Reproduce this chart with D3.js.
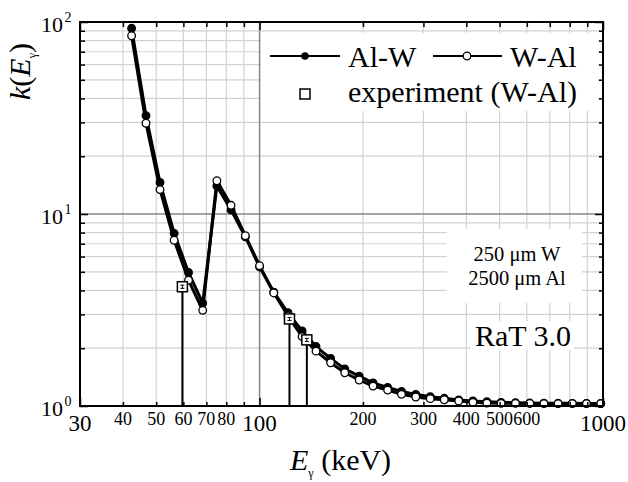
<!DOCTYPE html>
<html>
<head>
<meta charset="utf-8">
<script src="https://cdn.jsdelivr.net/npm/d3@7"></script>
<style>
  body { margin: 0; background: #fff; }
  text { font-family: "Liberation Serif", "Times New Roman", serif; fill: #000; }
</style>
</head>
<body>
<svg id="chart" width="628" height="482"></svg>
<script>
// photon energy grid (keV)
const energy = [42.4, 46.7, 51.3, 56.4, 62.1, 68.3, 75.1, 82.6, 90.9, 100,
  110, 121, 133, 146, 161, 177, 195, 214, 236, 259,
  285, 314, 345, 380, 418, 459, 505, 556, 612, 673,
  740, 814, 895, 985];

// k(E) for the two layer orders
const kAlW = [92.7, 32.5, 14.6, 7.93, 4.96, 3.43, 14.0, 10.5, 7.6, 5.3,
  3.92, 3.06, 2.46, 2.04, 1.77, 1.56, 1.43, 1.32, 1.25, 1.19,
  1.15, 1.118, 1.097, 1.075, 1.062, 1.053, 1.045, 1.04, 1.036, 1.034,
  1.033, 1.032, 1.031, 1.03];
const kWAl = [84.8, 29.7, 13.4, 7.30, 4.52, 3.15, 14.9, 11.1, 7.71, 5.38,
  3.88, 2.95, 2.30, 1.93, 1.68, 1.49, 1.366, 1.27, 1.21, 1.15,
  1.114, 1.092, 1.078, 1.062, 1.045, 1.036, 1.033, 1.032, 1.031, 1.03,
  1.03, 1.03, 1.03, 1.03];

// experiment (W-Al)
const expE = [59.6, 122.2, 137.3];
const expK = [4.18, 2.84, 2.21];
const expErr = [0.08, 0.05, 0.04];

// ticks / labels
const xMajor = [30, 100, 1000];
const xMinor = [40, 50, 60, 70, 80, 90, 200, 300, 400, 500, 600, 700, 800, 900];
const xMinorLabels = [40, 50, 60, 70, 80, 200, 300, 400, 500, 600];
const yMajor = [1, 10, 100];
const yMinor = [2, 3, 4, 5, 6, 7, 8, 9, 20, 30, 40, 50, 60, 70, 80, 90];

const pLeft = 80, pRight = 603, pTop = 22, pBottom = 406;

const svg = d3.select("#chart");

const x = d3.scaleLog().domain([30, 1000]).range([pLeft, pRight]);
const y = d3.scaleLog().domain([1, 100]).range([pBottom, pTop]);

// grid
const grid = svg.append("g").attr("class", "grid");
grid.selectAll("line.gx").data(xMinor).enter().append("line")
  .attr("x1", d => x(d)).attr("x2", d => x(d))
  .attr("y1", pTop).attr("y2", pBottom)
  .style("stroke", "#d2d2d2").style("stroke-width", 1.2);
grid.selectAll("line.gy").data(yMinor).enter().append("line")
  .attr("x1", pLeft).attr("x2", pRight)
  .attr("y1", d => y(d)).attr("y2", d => y(d))
  .style("stroke", "#d2d2d2").style("stroke-width", 1.2);
grid.append("line")
  .attr("x1", x(100)).attr("x2", x(100)).attr("y1", pTop).attr("y2", pBottom)
  .style("stroke", "#858585").style("stroke-width", 1.5);
grid.append("line")
  .attr("x1", pLeft).attr("x2", pRight).attr("y1", y(10)).attr("y2", y(10))
  .style("stroke", "#858585").style("stroke-width", 1.5);

// white boxes behind legend and annotation text
svg.append("rect").attr("x", 261).attr("y", 33).attr("width", 337).attr("height", 78)
  .style("fill", "#fff");
svg.append("rect").attr("x", 447).attr("y", 229).attr("width", 135).attr("height", 74)
  .style("fill", "#fff");
svg.append("rect").attr("x", 470).attr("y", 321).attr("width", 104).attr("height", 29)
  .style("fill", "#fff");

// experiment drop lines
const expData = expE.map((e, i) => ({ e: e, k: expK[i], err: expErr[i] }));
svg.append("g").selectAll("line").data(expData).enter().append("line")
  .attr("x1", d => x(d.e)).attr("x2", d => x(d.e))
  .attr("y1", d => y(d.k)).attr("y2", pBottom)
  .style("stroke", "#000").style("stroke-width", 2);

// series
const line = d3.line().x(d => x(d.e)).y(d => y(d.k));
function plotSeries(vals, filled) {
  const data = energy.map((e, i) => ({ e: e, k: vals[i] }));
  const g = svg.append("g");
  g.append("path").datum(data).attr("d", line)
    .style("fill", "none").style("stroke", "#000").style("stroke-width", 3)
    .style("stroke-linejoin", "round");
  g.selectAll("circle").data(data).enter().append("circle")
    .attr("cx", d => x(d.e)).attr("cy", d => y(d.k)).attr("r", 3.8)
    .style("fill", filled ? "#000" : "#fff")
    .style("stroke", "#000").style("stroke-width", 1.3);
}
plotSeries(kAlW, true);
plotSeries(kWAl, false);

// experiment squares with small error bars
const sq = svg.append("g").selectAll("g").data(expData).enter().append("g")
  .attr("transform", d => "translate(" + x(d.e) + "," + y(d.k) + ")");
sq.append("rect").attr("x", -5).attr("y", -5).attr("width", 10).attr("height", 10)
  .style("fill", "#fff").style("stroke", "#000").style("stroke-width", 1.5);
sq.append("path")
  .attr("d", d => {
    const h = y(d.k - d.err) - y(d.k);
    return "M-2," + (-h) + "H2M0," + (-h) + "V" + h + "M-2," + h + "H2";
  })
  .style("stroke", "#000").style("stroke-width", 1).style("fill", "none");

// axes (ticks inside)
function ticks(axis, vals, size, tr) {
  svg.append("g").attr("transform", tr)
    .call(axis.tickValues(vals).tickSize(-size).tickFormat(""))
    .call(g => g.select(".domain").remove())
    .call(g => g.selectAll("line").style("stroke", "#000").style("stroke-width", 1.5));
}
ticks(d3.axisBottom(x), xMinor, 4, "translate(0," + pBottom + ")");
ticks(d3.axisBottom(x), xMajor, 8, "translate(0," + pBottom + ")");
ticks(d3.axisTop(x), xMinor, 5, "translate(0," + pTop + ")");
ticks(d3.axisTop(x), xMajor, 8, "translate(0," + pTop + ")");
ticks(d3.axisLeft(y), yMinor, 5, "translate(" + pLeft + ",0)");
ticks(d3.axisLeft(y), yMajor, 8, "translate(" + pLeft + ",0)");
ticks(d3.axisRight(y), yMinor, 4, "translate(" + pRight + ",0)");
ticks(d3.axisRight(y), yMajor, 8, "translate(" + pRight + ",0)");

svg.append("rect").attr("x", pLeft).attr("y", pTop)
  .attr("width", pRight - pLeft).attr("height", pBottom - pTop)
  .style("fill", "none").style("stroke", "#000").style("stroke-width", 2);

// tick labels
svg.append("g").selectAll("text").data(xMajor).enter().append("text")
  .attr("x", d => x(d)).attr("y", 431)
  .attr("text-anchor", "middle").style("font-size", "23px")
  .text(d => d);
svg.append("g").selectAll("text").data(xMinorLabels).enter().append("text")
  .attr("x", d => x(d)).attr("y", 425)
  .attr("text-anchor", "middle").style("font-size", "18px")
  .text(d => d);

const yl = svg.append("g").selectAll("text").data(yMajor).enter().append("text")
  .attr("x", 63).attr("y", d => y(d) + 9.5)
  .attr("text-anchor", "end").style("font-size", "22px");
yl.append("tspan").text("10");
yl.append("tspan").attr("x", 64.5).attr("dy", -10).attr("text-anchor", "start")
  .style("font-size", "14px").text(d => Math.round(Math.log10(d)));

// axis titles
const yt = svg.append("text").attr("transform", "translate(30,100) rotate(-90)")
  .style("font-size", "30px");
yt.append("tspan").style("font-style", "italic").text("k");
yt.append("tspan").text("(");
yt.append("tspan").style("font-style", "italic").text("E");
yt.append("tspan").attr("dy", 6).style("font-size", "12px").text("γ");
yt.append("tspan").attr("dy", -6).text(")");

const xt = svg.append("text").attr("x", 290).attr("y", 470).style("font-size", "30px");
xt.append("tspan").style("font-style", "italic").text("E");
xt.append("tspan").attr("dy", 7).style("font-size", "12px").text("γ");
xt.append("tspan").attr("dy", -7).text(" (keV)");

// legend
const lg = svg.append("g");
lg.append("line").attr("x1", 270).attr("x2", 340).attr("y1", 56).attr("y2", 56)
  .style("stroke", "#000").style("stroke-width", 2);
lg.append("circle").attr("cx", 305).attr("cy", 56).attr("r", 3.8).style("fill", "#000");
lg.append("text").attr("x", 348).attr("y", 66.5).style("font-size", "30px").text("Al-W");
lg.append("line").attr("x1", 433).attr("x2", 502).attr("y1", 56).attr("y2", 56)
  .style("stroke", "#000").style("stroke-width", 2);
lg.append("circle").attr("cx", 467).attr("cy", 56).attr("r", 3.8)
  .style("fill", "#fff").style("stroke", "#000").style("stroke-width", 1.3);
lg.append("text").attr("x", 510).attr("y", 66.5).style("font-size", "30px").text("W-Al");
lg.append("rect").attr("x", 300).attr("y", 89).attr("width", 10).attr("height", 10)
  .style("fill", "#fff").style("stroke", "#000").style("stroke-width", 1.5);
lg.append("text").attr("x", 348).attr("y", 102).style("font-size", "30px").text("experiment (W-Al)");

// annotations
svg.append("text").attr("x", 517).attr("y", 261).attr("text-anchor", "middle")
  .style("font-size", "20.5px").text("250 μm W");
svg.append("text").attr("x", 517).attr("y", 284.5).attr("text-anchor", "middle")
  .style("font-size", "20.5px").text("2500 μm Al");
svg.append("text").attr("x", 571).attr("y", 346).attr("text-anchor", "end")
  .style("font-size", "30px").text("RaT 3.0");
</script>
</body>
</html>
